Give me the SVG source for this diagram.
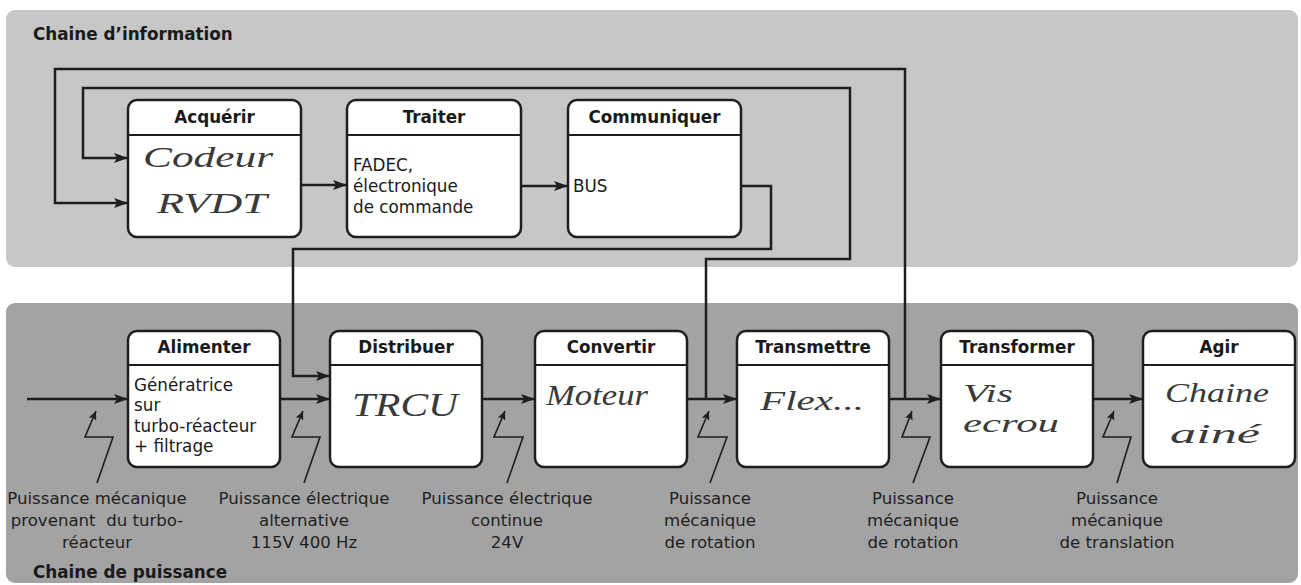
<svg xmlns="http://www.w3.org/2000/svg" width="1301" height="585" viewBox="0 0 1301 585">
<style>
.panelTop{fill:#c7c7c7;}
.panelBot{fill:#a3a3a3;}
.title{font-family:"DejaVu Sans",Verdana,sans-serif;font-weight:bold;font-size:16.8px;fill:#1a1a1a;}
.box{fill:#ffffff;stroke:#1e1e1e;stroke-width:2.5;}
.sep{stroke:#1e1e1e;stroke-width:2;}
.hdr{font-family:"DejaVu Sans",Verdana,sans-serif;font-weight:bold;font-size:16.8px;fill:#1a1a1a;text-anchor:middle;}
.txt{font-family:"DejaVu Sans",Verdana,sans-serif;font-size:16.8px;fill:#1a1a1a;}
.lbl{font-family:"DejaVu Sans",Verdana,sans-serif;font-size:16.6px;fill:#1f1f1f;text-anchor:middle;white-space:pre;}
.hand{font-family:"Liberation Serif","DejaVu Serif",serif;font-style:italic;fill:#3a3a3a;}
.wire{fill:none;stroke:#1e1e1e;stroke-width:2.5;}
.bolt{fill:none;stroke:#1e1e1e;stroke-width:1.6;}
</style>
<defs>
<marker id="arr" markerUnits="userSpaceOnUse" markerWidth="16" markerHeight="12" refX="15" refY="6" orient="auto">
<path d="M1,1 L15,6 L1,11 L4,6 z" fill="#1e1e1e"/>
</marker>
<marker id="sarr" markerUnits="userSpaceOnUse" markerWidth="10" markerHeight="8" refX="9" refY="4" orient="auto">
<path d="M0,0 L9,4 L0,8 L2,4 z" fill="#1e1e1e"/>
</marker>
</defs>

<g id="panel-information">
<rect class="panelTop" x="6" y="10" width="1292" height="257" rx="9"/>
<text class="title" x="33" y="40">Chaine d’information</text>
</g>
<g id="panel-puissance">
<rect class="panelBot" x="6" y="303" width="1292" height="280" rx="9"/>
<text class="title" x="33" y="578">Chaine de puissance</text>
</g>

<g id="connectors">
<path class="wire" d="M905,399 V69 H55 V203 H128" marker-end="url(#arr)"/>
<path class="wire" d="M706,399 V259 H850 V88 H83 V158 H128" marker-end="url(#arr)"/>
<path class="wire" d="M741,186 H771 V249 H293 V376 H330" marker-end="url(#arr)"/>
<path class="wire" d="M301,185 H347" marker-end="url(#arr)"/>
<path class="wire" d="M521,186 H568" marker-end="url(#arr)"/>
<path class="wire" d="M27,399 H128" marker-end="url(#arr)"/>
<path class="wire" d="M280,399 H330" marker-end="url(#arr)"/>
<path class="wire" d="M482,399 H535" marker-end="url(#arr)"/>
<path class="wire" d="M687,399 H737" marker-end="url(#arr)"/>
<path class="wire" d="M889,399 H941" marker-end="url(#arr)"/>
<path class="wire" d="M1093,399 H1143" marker-end="url(#arr)"/>
<polyline class="bolt" points="97,483 113,437 85,437 96,411" marker-end="url(#sarr)"/>
<polyline class="bolt" points="304,483 320,437 292,437 303,411" marker-end="url(#sarr)"/>
<polyline class="bolt" points="507,483 523,437 494,437 505,411" marker-end="url(#sarr)"/>
<polyline class="bolt" points="710,483 727,437 698,437 709,411" marker-end="url(#sarr)"/>
<polyline class="bolt" points="913,483 930,437 902,437 912,411" marker-end="url(#sarr)"/>
<polyline class="bolt" points="1117,483 1131,437 1103,437 1114,411" marker-end="url(#sarr)"/>
</g>

<g id="node-acquerir">
<rect class="box" x="128" y="100" width="173" height="137" rx="9"/>
<line class="sep" x1="128" y1="135" x2="301" y2="135"/>
<text class="hdr" x="214.5" y="123">Acquérir</text>
<text class="hand" x="143" y="167" font-size="30" textLength="130" lengthAdjust="spacingAndGlyphs">Codeur</text>
<text class="hand" x="157" y="213" font-size="30" textLength="110" lengthAdjust="spacingAndGlyphs">RVDT</text>
</g>
<g id="node-traiter">
<rect class="box" x="347" y="100" width="174" height="137" rx="9"/>
<line class="sep" x1="347" y1="135" x2="521" y2="135"/>
<text class="hdr" x="434" y="123">Traiter</text>
<text class="txt" x="353" y="171">FADEC,</text>
<text class="txt" x="353" y="192">électronique</text>
<text class="txt" x="353" y="213">de commande</text>
</g>
<g id="node-communiquer">
<rect class="box" x="568" y="100" width="173" height="137" rx="9"/>
<line class="sep" x1="568" y1="135" x2="741" y2="135"/>
<text class="hdr" x="654.5" y="123">Communiquer</text>
<text class="txt" x="573" y="192">BUS</text>
</g>

<g id="node-alimenter">
<rect class="box" x="128" y="331" width="152" height="136" rx="9"/>
<line class="sep" x1="128" y1="365" x2="280" y2="365"/>
<text class="hdr" x="204" y="353">Alimenter</text>
<text class="txt" x="134" y="391">Génératrice</text>
<text class="txt" x="134" y="411">sur</text>
<text class="txt" x="134" y="432">turbo-réacteur</text>
<text class="txt" x="134" y="452">+ filtrage</text>
</g>
<g id="node-distribuer">
<rect class="box" x="330" y="331" width="152" height="136" rx="9"/>
<line class="sep" x1="330" y1="365" x2="482" y2="365"/>
<text class="hdr" x="406" y="353">Distribuer</text>
<text class="hand" x="352" y="416" font-size="34" textLength="106" lengthAdjust="spacingAndGlyphs">TRCU</text>
</g>
<g id="node-convertir">
<rect class="box" x="535" y="331" width="152" height="136" rx="9"/>
<line class="sep" x1="535" y1="365" x2="687" y2="365"/>
<text class="hdr" x="611" y="353">Convertir</text>
<text class="hand" x="546" y="405" font-size="30" textLength="102" lengthAdjust="spacingAndGlyphs">Moteur</text>
</g>
<g id="node-transmettre">
<rect class="box" x="737" y="331" width="152" height="136" rx="9"/>
<line class="sep" x1="737" y1="365" x2="889" y2="365"/>
<text class="hdr" x="813" y="353">Transmettre</text>
<text class="hand" x="760" y="410" font-size="28" textLength="104" lengthAdjust="spacingAndGlyphs">Flex...</text>
</g>
<g id="node-transformer">
<rect class="box" x="941" y="331" width="152" height="136" rx="9"/>
<line class="sep" x1="941" y1="365" x2="1093" y2="365"/>
<text class="hdr" x="1017" y="353">Transformer</text>
<text class="hand" x="963" y="402" font-size="26" textLength="50" lengthAdjust="spacingAndGlyphs">Vis</text>
<text class="hand" x="963" y="432" font-size="26" textLength="96" lengthAdjust="spacingAndGlyphs">ecrou</text>
</g>
<g id="node-agir">
<rect class="box" x="1143" y="331" width="152" height="136" rx="9"/>
<line class="sep" x1="1143" y1="365" x2="1295" y2="365"/>
<text class="hdr" x="1219" y="353">Agir</text>
<text class="hand" x="1165" y="402" font-size="28" textLength="104" lengthAdjust="spacingAndGlyphs">Chaine</text>
<text class="hand" x="1170" y="443" font-size="28" textLength="90" lengthAdjust="spacingAndGlyphs">ainé</text>
</g>

<g id="labels">
<text class="lbl" x="97" y="504">Puissance mécanique</text>
<text class="lbl" x="97" y="526" xml:space="preserve">provenant  du turbo-</text>
<text class="lbl" x="97" y="548">réacteur</text>
<text class="lbl" x="304" y="504">Puissance électrique</text>
<text class="lbl" x="304" y="526">alternative</text>
<text class="lbl" x="304" y="548">115V 400 Hz</text>
<text class="lbl" x="507" y="504">Puissance électrique</text>
<text class="lbl" x="507" y="526">continue</text>
<text class="lbl" x="507" y="548">24V</text>
<text class="lbl" x="710" y="504">Puissance</text>
<text class="lbl" x="710" y="526">mécanique</text>
<text class="lbl" x="710" y="548">de rotation</text>
<text class="lbl" x="913" y="504">Puissance</text>
<text class="lbl" x="913" y="526">mécanique</text>
<text class="lbl" x="913" y="548">de rotation</text>
<text class="lbl" x="1117" y="504">Puissance</text>
<text class="lbl" x="1117" y="526">mécanique</text>
<text class="lbl" x="1117" y="548">de translation</text>
</g>
</svg>
